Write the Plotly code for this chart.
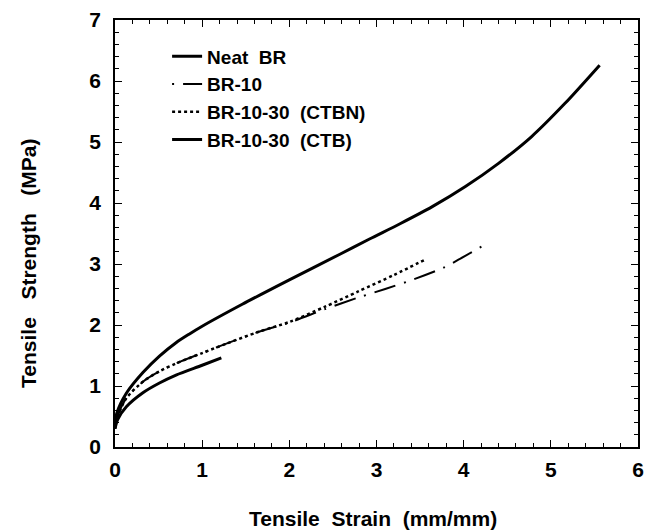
import plotly.graph_objects as go

# Data
ctb_x = [0, 0.02, 0.13, 0.32, 0.51, 0.70, 0.85, 1.0, 1.46, 2.0, 2.58, 2.92, 3.27, 3.64, 4.02, 4.40, 4.78, 5.16, 5.56]
ctb_y = [0.35, 0.55, 0.88, 1.22, 1.49, 1.71, 1.85, 1.98, 2.34, 2.74, 3.16, 3.41, 3.66, 3.94, 4.27, 4.65, 5.09, 5.63, 6.26]

neat_x = [0, 0.03, 0.13, 0.32, 0.51, 0.70, 1.0, 1.22]
neat_y = [0.30, 0.45, 0.66, 0.89, 1.05, 1.18, 1.34, 1.46]

br10_x = [0, 0.03, 0.13, 0.32, 0.51, 0.70, 1.0, 1.27, 1.65, 2.0, 2.41, 2.79, 3.10, 3.43, 3.77, 3.94, 4.27]
br10_y = [0.30, 0.50, 0.80, 1.07, 1.24, 1.37, 1.54, 1.69, 1.89, 2.04, 2.26, 2.45, 2.59, 2.75, 2.94, 3.07, 3.34]

ctbn_x = [0, 0.03, 0.13, 0.32, 0.51, 0.70, 1.0, 1.27, 1.65, 2.0, 2.41, 2.79, 3.20, 3.57]
ctbn_y = [0.30, 0.50, 0.80, 1.07, 1.24, 1.37, 1.54, 1.69, 1.89, 2.05, 2.30, 2.55, 2.82, 3.08]

x_ticks = [0, 1, 2, 3, 4, 5, 6]
y_ticks = [0, 1, 2, 3, 4, 5, 6, 7]

FONT = "Liberation Sans, Arial, sans-serif"

fig = go.Figure()
fig.add_trace(go.Scatter(x=neat_x, y=neat_y, mode="lines", name="<b>Neat  BR</b>",
                         line=dict(color="black", width=3, shape="spline", smoothing=0.8)))
fig.add_trace(go.Scatter(x=br10_x, y=br10_y, mode="lines", name="<b>BR-10</b>",
                         line=dict(color="black", width=2, dash="2px,9px,22px,9px",
                                   shape="spline", smoothing=0.8)))
fig.add_trace(go.Scatter(x=ctbn_x, y=ctbn_y, mode="lines", name="<b>BR-10-30  (CTBN)</b>",
                         line=dict(color="black", width=2.5, dash="dot", shape="spline", smoothing=0.8)))
fig.add_trace(go.Scatter(x=ctb_x, y=ctb_y, mode="lines", name="<b>BR-10-30  (CTB)</b>",
                         line=dict(color="black", width=3, shape="spline", smoothing=0.8)))

axis_common = dict(
    showgrid=False, zeroline=False, showline=True, linecolor="black", linewidth=1.5,
    mirror="allticks", ticks="inside", ticklen=7, tickwidth=1.3, tickcolor="black",
    tickfont=dict(family=FONT, size=21, color="black"),
)

fig.update_xaxes(range=[0, 6], tickvals=x_ticks, ticktext=[f"<b>{v}</b>" for v in x_ticks],
                 minor=dict(dtick=0.2, ticks="inside", ticklen=4, tickcolor="black", tickwidth=1.2),
                 ticklabelstandoff=3, **axis_common)
fig.update_yaxes(range=[0, 7], tickvals=y_ticks, ticktext=[f"<b>{v}</b>" for v in y_ticks],
                 minor=dict(dtick=0.2, ticks="inside", ticklen=4, tickcolor="black", tickwidth=1.2),
                 ticklabelstandoff=8, **axis_common)

fig.add_annotation(text="<b>Tensile  Strain  (mm/mm)</b>", xref="paper", yref="paper",
                   x=0.493, y=-0.1686, xanchor="center", yanchor="middle", showarrow=False,
                   font=dict(family=FONT, size=21, color="black"))
fig.add_annotation(text="<b>Tensile   Strength   (MPa)</b>", xref="paper", yref="paper",
                   x=-0.1645, y=0.431, xanchor="center", yanchor="middle", showarrow=False,
                   textangle=-90, font=dict(family=FONT, size=21, color="black"))

fig.update_layout(
    width=650, height=532,
    margin=dict(l=115, r=6, t=20, b=85),
    paper_bgcolor="white", plot_bgcolor="white",
    showlegend=True,
    legend=dict(x=0.0996, y=0.959, xanchor="left", yanchor="top", bgcolor="rgba(0,0,0,0)",
                font=dict(family=FONT, size=19, color="black"), tracegroupgap=0,
                itemwidth=30),
)

fig.write_html("out.html", config={"displayModeBar": False},
               post_script="document.body.style.margin='0';document.body.style.overflow='hidden';")
